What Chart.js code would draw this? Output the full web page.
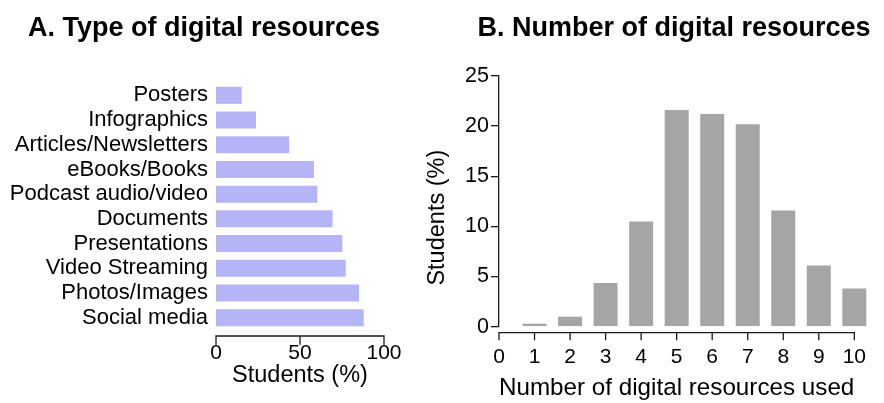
<!DOCTYPE html>
<html><head><meta charset="utf-8">
<script src="https://cdn.jsdelivr.net/npm/chart.js@4"></script>
<style>
html,body{margin:0;padding:0;background:#fff;}
body{width:884px;height:403px;position:relative;overflow:hidden;font-family:"Liberation Sans",Arial,Helvetica,sans-serif;}
.t{position:absolute;top:12px;font-weight:bold;font-size:27px;line-height:30px;white-space:nowrap;text-align:center;color:#000;}
#wa{position:absolute;left:0;top:0;width:420px;height:403px;}
#wb{position:absolute;left:420px;top:0;width:464px;height:403px;}
</style></head>
<body>
<div id="wa"><canvas id="ca"></canvas></div>
<div id="wb"><canvas id="cb"></canvas></div>
<div class="t" style="left:4px;width:400px">A. Type of digital resources</div>
<div class="t" style="left:474px;width:400px">B. Number of digital resources</div>
<script>
// ---- data ----
const resourceTypes = ['Posters','Infographics','Articles/Newsletters','eBooks/Books','Podcast audio/video','Documents','Presentations','Video Streaming','Photos/Images','Social media'];
const typePercent = [15.3, 23.8, 43.5, 58.3, 60.3, 69.4, 75.2, 77.2, 85.1, 87.9];
const typeTicks = [0, 50, 100];

const resourceCounts = [1, 2, 3, 4, 5, 6, 7, 8, 9, 10];
const countPercent = [0.3, 1.0, 4.35, 10.5, 21.6, 21.2, 20.2, 11.6, 6.1, 3.8];
const countTicks = [0, 1, 2, 3, 4, 5, 6, 7, 8, 9, 10];
const studentTicks = [0, 5, 10, 15, 20, 25];

const FONT = '"Liberation Sans", Arial, Helvetica, sans-serif';
const INK = '#000';
const AXIS = '#1a1a1a';

const offsetAxis = {
  id: 'offsetAxis',
  afterDraw(chart, args, opts) {
    const s = chart.scales.x, ctx = chart.ctx;
    const y0 = chart.chartArea.bottom + opts.gap;
    ctx.save();
    ctx.strokeStyle = AXIS; ctx.lineWidth = 1.3; ctx.lineCap = 'square';
    ctx.beginPath();
    ctx.moveTo(s.getPixelForValue(s.min), y0);
    ctx.lineTo(s.getPixelForValue(s.max), y0);
    s.ticks.forEach(t => {
      const x = s.getPixelForValue(t.value);
      ctx.moveTo(x, y0); ctx.lineTo(x, y0 + opts.len);
    });
    ctx.stroke();
    ctx.restore();
  }
};

new Chart(document.getElementById('ca'), {
  type: 'bar',
  data: { labels: resourceTypes, datasets: [{ data: typePercent, backgroundColor: '#b4b4f6', categoryPercentage: 1, barPercentage: 0.69 }] },
  options: {
    indexAxis: 'y', responsive: true, maintainAspectRatio: false, animation: false,
    layout: { padding: { top: 83, right: 36, bottom: 0, left: 0 } },
    plugins: { legend: { display: false }, tooltip: { enabled: false }, offsetAxis: { gap: 6, len: 8 } },
    scales: {
      x: {
        type: 'linear', min: 0, max: 100, position: 'bottom',
        afterBuildTicks: s => { s.ticks = typeTicks.map(v => ({ value: v })); },
        grid: { display: false, drawTicks: false }, border: { display: false },
        ticks: { padding: 11, color: INK, font: { family: FONT, size: 21 } },
        title: { display: true, text: 'Students (%)', color: INK, font: { family: FONT, size: 23.5 }, padding: { top: 0, bottom: 13 } },
        afterFit: s => { s.height = 73; }
      },
      y: {
        grid: { display: false, drawTicks: false }, border: { display: false },
        ticks: { padding: 8, autoSkip: false, color: INK, font: { family: FONT, size: 22 } },
        afterFit: s => { s.width = 216; }
      }
    }
  },
  plugins: [offsetAxis]
});

new Chart(document.getElementById('cb'), {
  type: 'bar',
  data: { labels: resourceCounts, datasets: [{ data: countPercent, backgroundColor: '#a5a5a5', categoryPercentage: 1, barPercentage: 0.675, clip: false }] },
  options: {
    responsive: true, maintainAspectRatio: false, animation: false,
    layout: { padding: { top: 76, right: 14, bottom: 0, left: 0 } },
    plugins: { legend: { display: false }, tooltip: { enabled: false }, offsetAxis: { gap: 6, len: 7 } },
    scales: {
      x: {
        type: 'linear', min: 0, max: 10, offset: false,
        afterBuildTicks: s => { s.ticks = countTicks.map(v => ({ value: v })); },
        grid: { display: false, drawTicks: false, offset: false }, border: { display: false },
        ticks: { padding: 18, color: INK, font: { family: FONT, size: 21 } },
        title: { display: true, text: 'Number of digital resources used', color: INK, font: { family: FONT, size: 24.3 }, padding: { top: 0, bottom: 0 } },
        afterFit: s => { s.height = 76.3; }
      },
      y: {
        min: 0, max: 25,
        afterBuildTicks: s => { s.ticks = studentTicks.map(v => ({ value: v })); },
        grid: { display: true, drawOnChartArea: false, drawTicks: true, tickLength: 8, color: AXIS, lineWidth: 1.3 },
        border: { display: true, color: AXIS, width: 1.3 },
        ticks: { padding: 2, color: INK, font: { family: FONT, size: 21.5 } },
        title: { display: true, text: 'Students (%)     ', color: INK, font: { family: FONT, size: 23.5 }, padding: { top: 3, bottom: 0 } },
        afterFit: s => { s.width = 79; }
      }
    }
  },
  plugins: [offsetAxis]
});
</script>
</body></html>
